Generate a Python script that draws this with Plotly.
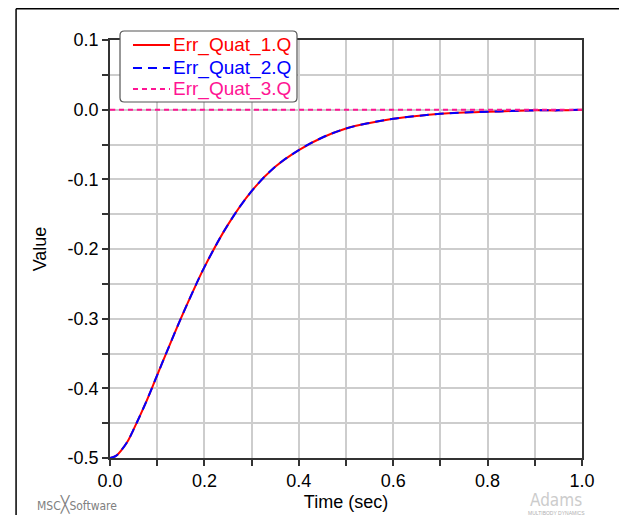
import plotly.graph_objects as go

time_s = [0.0, 0.0125, 0.025, 0.0375, 0.05, 0.075, 0.1, 0.125, 0.15, 0.175, 0.2, 0.25, 0.3, 0.35,
          0.4, 0.45, 0.5, 0.55, 0.6, 0.65, 0.7, 0.75, 0.8, 0.85, 0.9, 0.95, 1.0]
err_quat_1 = [-0.5, -0.497, -0.488, -0.476, -0.459, -0.422, -0.381, -0.340, -0.300, -0.262, -0.226,
              -0.165, -0.117, -0.082, -0.058, -0.040, -0.027, -0.019, -0.013, -0.009,
              -0.006, -0.004, -0.003, -0.002, -0.001, -0.001, 0.0]
err_quat_2 = [-0.5, -0.497, -0.488, -0.476, -0.459, -0.422, -0.381, -0.340, -0.300, -0.262, -0.226,
              -0.165, -0.117, -0.082, -0.058, -0.040, -0.027, -0.019, -0.013, -0.009,
              -0.006, -0.004, -0.003, -0.002, -0.001, -0.001, 0.0]
err_quat_3 = [0.0] * len(time_s)

series_names = ["Err_Quat_1.Q", "Err_Quat_2.Q", "Err_Quat_3.Q"]
series_colors = ["#ff0000", "#0000ff", "#ff1493"]
series_dash = ["solid", "9px,6px", "5px,4px"]
series_vals = [err_quat_1, err_quat_2, err_quat_3]

x_tick_vals = [0.0, 0.2, 0.4, 0.6, 0.8, 1.0]
x_tick_text = ["0.0", "0.2", "0.4", "0.6", "0.8", "1.0"]
y_tick_vals = [0.1, 0.0, -0.1, -0.2, -0.3, -0.4, -0.5]
y_tick_text = ["0.1", "0.0", "-0.1", "-0.2", "-0.3", "-0.4", "-0.5"]

font = "Liberation Sans, Arial, sans-serif"
fig = go.Figure()
for name, col, dash, vals in zip(series_names, series_colors, series_dash, series_vals):
    fig.add_trace(go.Scatter(
        x=time_s, y=vals, mode="lines", line_shape="spline", name=name,
        line=dict(color=col, width=2, dash=dash), showlegend=False,
    ))

axis_common = dict(
    showline=True, linecolor="#333333", linewidth=1.5, mirror=True,
    ticks="outside", ticklen=6, tickcolor="#333333", tickwidth=1.5,
    showgrid=True, gridcolor="#cdcdcd", gridwidth=1.5, zeroline=False,
    tickfont=dict(family=font, size=18, color="black"), automargin=False,
)
fig.update_xaxes(range=[0, 1.0], tickmode="array", tickvals=x_tick_vals, ticktext=x_tick_text,
                 minor=dict(dtick=0.1, tick0=0, showgrid=True, gridcolor="#cdcdcd", gridwidth=1.5,
                            ticks="outside", ticklen=6, tickcolor="#333333", tickwidth=1.5),
                 title=dict(text="Time (sec)", font=dict(family=font, size=18, color="black"),
                            standoff=5),
                 **axis_common)
fig.update_yaxes(range=[-0.5, 0.1], tickmode="array", tickvals=y_tick_vals, ticktext=y_tick_text,
                 minor=dict(dtick=0.05, tick0=0, showgrid=True, gridcolor="#cdcdcd", gridwidth=1.5,
                            ticks="outside", ticklen=6, tickcolor="#333333", tickwidth=1.5),
                 title=dict(text="Value", font=dict(family=font, size=18, color="black"),
                            standoff=16),
                 **axis_common)

# outer frame
fig.add_shape(type="line", xref="paper", yref="paper", x0=-0.199, x1=-0.199, y0=1.0745, y1=-0.2,
              line=dict(color="black", width=1.5))
fig.add_shape(type="line", xref="paper", yref="paper", x0=-0.199, x1=1.2, y0=1.0745, y1=1.0745,
              line=dict(color="black", width=1.5))
fig.add_shape(type="line", xref="paper", yref="paper", x0=1.093, x1=1.093, y0=1.0745, y1=-0.2,
              line=dict(color="#d0d0d0", width=1.5))

# legend (drawn to match the original's compact rounded box)
lx0, lx1, ly0, ly1, r = 0.0212, 0.3962, 0.8517, 1.0215, 0.009
rx = r
ry = r * 472 / 418
fig.add_shape(type="path", xref="paper", yref="paper",
              path=(f"M {lx0+rx},{ly1} L {lx1-rx},{ly1} Q {lx1},{ly1} {lx1},{ly1-ry} "
                    f"L {lx1},{ly0+ry} Q {lx1},{ly0} {lx1-rx},{ly0} L {lx0+rx},{ly0} "
                    f"Q {lx0},{ly0} {lx0},{ly0+ry} L {lx0},{ly1-ry} Q {lx0},{ly1} {lx0+rx},{ly1} Z"),
              fillcolor="white", line=dict(color="#555555", width=1.2), layer="above")
row_y = [0.988, 0.933, 0.883]
for name, col, dash, yy in zip(series_names, series_colors, series_dash, row_y):
    fig.add_shape(type="line", xref="paper", yref="paper", x0=0.0487, x1=0.1271, y0=yy, y1=yy,
                  line=dict(color=col, width=2, dash=dash), layer="above")
    fig.add_annotation(xref="paper", yref="paper", x=0.1286, y=yy, xanchor="left", yanchor="middle",
                       text=name, showarrow=False, font=dict(family=font, size=19, color=col))

fig.add_annotation(xref="paper", yref="paper", x=-0.159, y=-0.1124, xanchor="left", yanchor="middle",
                   text="MSC<span style='font-size:16px'>╳</span>Software", showarrow=False,
                   font=dict(family="DejaVu Sans Condensed, DejaVu Sans", size=12, color="#808080"))
fig.add_annotation(xref="paper", yref="paper", x=0.945, y=-0.1, xanchor="center", yanchor="middle",
                   text="Adams", showarrow=False,
                   font=dict(family="DejaVu Sans Condensed, DejaVu Sans", size=17, color="#cccccc"))
fig.add_annotation(xref="paper", yref="paper", x=0.945, y=-0.1325, xanchor="center", yanchor="middle",
                   text="MULTIBODY DYNAMICS", showarrow=False,
                   font=dict(family=font, size=5, color="#b0b0b0"))

fig.update_layout(
    width=619, height=507,
    margin=dict(l=102, r=45, t=32, b=57),
    paper_bgcolor="white", plot_bgcolor="white",
    showlegend=False,
    font=dict(family=font),
)

fig.write_html("out.html", config={"displayModeBar": False})
